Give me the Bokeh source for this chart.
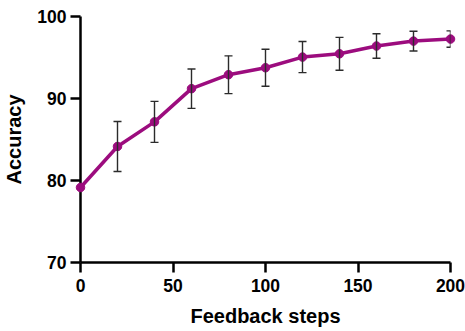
from bokeh.plotting import figure
from bokeh.models import Range1d, ColumnDataSource, Whisker, FixedTicker
from bokeh.embed import file_html
from bokeh.resources import INLINE

steps = [0, 20, 40, 60, 80, 100, 120, 140, 160, 180, 200]
accuracy = [79.15, 84.15, 87.15, 91.2, 92.9, 93.75, 95.05, 95.45, 96.4, 97.0, 97.25]
err = [0.0, 3.05, 2.5, 2.4, 2.3, 2.25, 1.9, 2.0, 1.5, 1.2, 1.0]
x_ticks = [0, 50, 100, 150, 200]
y_ticks = [70, 80, 90, 100]

lower = [a - e for a, e in zip(accuracy, err)]
upper = [a + e for a, e in zip(accuracy, err)]
src = ColumnDataSource(dict(x=steps, y=accuracy))
err_src = ColumnDataSource(dict(
    x=[s for s, e in zip(steps, err) if e > 0],
    lo=[l for l, e in zip(lower, err) if e > 0],
    hi=[h for h, e in zip(upper, err) if e > 0],
))

COLOR = "#9c0c7e"
FONT = "Liberation Sans"

p = figure(width=465, height=331, output_backend="svg", toolbar_location=None,
           x_range=Range1d(0, 200), y_range=Range1d(70, 100),
           min_border_left=80, min_border_right=15, min_border_top=16, min_border_bottom=69)
p.outline_line_color = None
p.grid.visible = False
p.background_fill_color = "white"

w = Whisker(source=err_src, base="x", lower="lo", upper="hi",
            line_color="#2b2b2b", line_width=1.4, level="overlay")
for h in (w.upper_head, w.lower_head):
    h.size = 8
    h.line_color = "#2b2b2b"
    h.line_width = 1.4
p.add_layout(w)

p.line("x", "y", source=src, line_color=COLOR, line_width=3.5, level="overlay")
p.scatter("x", "y", source=src, size=8.5, fill_color=COLOR, line_color=COLOR, level="overlay")

for ax in (p.xaxis[0], p.yaxis[0]):
    ax.axis_line_width = 2.5
    ax.axis_line_color = "black"
    ax.major_tick_line_width = 2.5
    ax.major_tick_line_color = "black"
    ax.major_tick_out = 10
    ax.major_tick_in = 0
    ax.minor_tick_line_color = None
    ax.major_label_text_font = FONT
    ax.major_label_text_font_style = "bold"
    ax.major_label_text_font_size = "17.5px"
    ax.major_label_text_color = "black"
    ax.axis_label_text_font = FONT
    ax.axis_label_text_font_style = "bold"
    ax.axis_label_text_font_size = "20px"
    ax.axis_label_text_color = "black"

p.xaxis[0].ticker = FixedTicker(ticks=x_ticks)
p.yaxis[0].ticker = FixedTicker(ticks=y_ticks)
p.xaxis[0].axis_label = "Feedback steps"
p.yaxis[0].axis_label = "Accuracy"
p.xaxis[0].major_label_standoff = 6
p.yaxis[0].major_label_standoff = 4
p.xaxis[0].axis_label_standoff = 10
p.yaxis[0].axis_label_standoff = 9

open("out.html", "w").write(file_html(p, INLINE))
